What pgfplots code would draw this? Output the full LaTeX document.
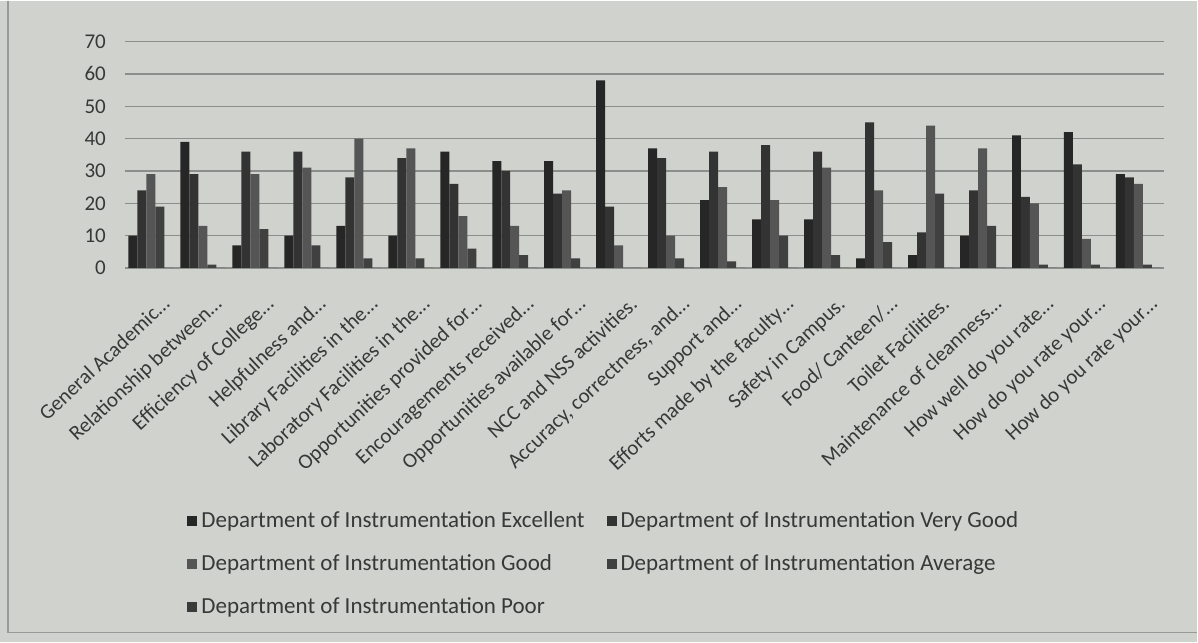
\documentclass[border=0pt]{standalone}
\usepackage{pgfplots}
\pgfplotsset{compat=1.18}
\usepackage{fontspec}
\setmainfont{Carlito}
\definecolor{bg}{HTML}{D0D2CE}
\definecolor{txt}{HTML}{383838}
\definecolor{gridc}{HTML}{8C8E8B}
\definecolor{cEx}{HTML}{262626}
\definecolor{cVG}{HTML}{333333}
\definecolor{cGo}{HTML}{555555}
\definecolor{cAv}{HTML}{404040}
\definecolor{cPo}{HTML}{3A3A3A}
\begin{document}
\begin{tikzpicture}
\fill[bg] (0,0) rectangle (599pt,321pt);
\draw[gray!80, line width=0.6pt] (4pt,321pt) -- (4pt,5pt) -- (599pt,5pt);
\begin{axis}[
  at={(62.5pt,187.25pt)}, anchor=south west,
  scale only axis, width=520pt, height=113.25pt,
  ybar=0pt, bar width=4.5pt,
  ymin=0, ymax=70, ytick={0,10,...,70},
  xmin=-0.5, xmax=19.5, xtick={0,...,19},
  xticklabels={General Academic…, Relationship between…, Efficiency of College…, Helpfulness and…, Library Facilities in the…, Laboratory Facilities in the…, Opportunities provided for…, Encouragements received…, Opportunities available for…, NCC and NSS activities., {Accuracy, correctness, and…}, Support and…, Efforts made by the faculty…, Safety in Campus., Food/ Canteen/…, Toilet Facilities., Maintenance of cleanness…, How well do you rate…, How do you rate your…, How do you rate your…},
  x tick label style={rotate=43, anchor=north east, font=\fontsize{10.5}{12}\selectfont, text=txt, inner sep=1pt, yshift=-12.2pt, xshift=-4.5pt},
  y tick label style={font=\fontsize{10.5}{12}\selectfont, text=txt, xshift=-6pt},
  /pgf/number format/assume math mode=true,
  major tick length=0pt,
  axis line style={draw=none},
  ymajorgrids, grid style={gridc, line width=0.6pt},
  legend columns=2,
  legend style={at={(0.054,-1.04)}, anchor=north west, draw=none, fill=none,
    font=\fontsize{11.5}{13}\selectfont, text=txt, row sep=8pt,
    /tikz/every even column/.append style={column sep=9pt}},
  legend cell align=left,
  legend image code/.code={\fill[#1] (0pt,-2.5pt) rectangle (5pt,2.5pt);},
]
\addplot[fill=cEx, draw=none] coordinates {(0,10)(1,39)(2,7)(3,10)(4,13)(5,10)(6,36)(7,33)(8,33)(9,58)(10,37)(11,21)(12,15)(13,15)(14,3)(15,4)(16,10)(17,41)(18,42)(19,29)};
\addplot[fill=cVG, draw=none] coordinates {(0,24)(1,29)(2,36)(3,36)(4,28)(5,34)(6,26)(7,30)(8,23)(9,19)(10,34)(11,36)(12,38)(13,36)(14,45)(15,11)(16,24)(17,22)(18,32)(19,28)};
\addplot[fill=cGo, draw=none] coordinates {(0,29)(1,13)(2,29)(3,31)(4,40)(5,37)(6,16)(7,13)(8,24)(9,7)(10,10)(11,25)(12,21)(13,31)(14,24)(15,44)(16,37)(17,20)(18,9)(19,26)};
\addplot[fill=cAv, draw=none] coordinates {(0,19)(1,1)(2,12)(3,7)(4,3)(5,3)(6,6)(7,4)(8,3)(9,0)(10,3)(11,2)(12,10)(13,4)(14,8)(15,23)(16,13)(17,1)(18,1)(19,1)};
\addplot[fill=cPo, draw=none] coordinates {(0,0)(1,0)(2,0)(3,0)(4,0)(5,0)(6,0)(7,0)(8,0)(9,0)(10,0)(11,0)(12,0)(13,0)(14,0)(15,0)(16,0)(17,0)(18,0)(19,0)};
\legend{Department of Instrumentation Excellent, Department of Instrumentation Very Good, Department of Instrumentation Good, Department of Instrumentation Average, Department of Instrumentation Poor}
\end{axis}
\end{tikzpicture}
\end{document}
